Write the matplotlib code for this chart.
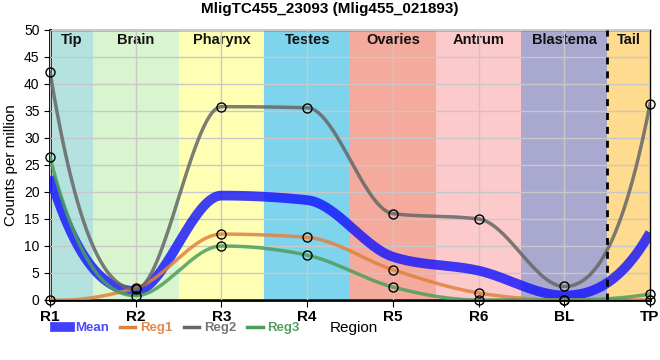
import numpy as np
import matplotlib
matplotlib.use('Agg')
from matplotlib import pyplot as plt
from matplotlib.lines import Line2D

plt.rcParams['font.family'] = ['Liberation Sans', 'DejaVu Sans']

regions = ['R1', 'R2', 'R3', 'R4', 'R5', 'R6', 'BL', 'TP']
reg1 = [0.0, 2.2, 12.2, 11.6, 5.6, 1.3, 0.0, 0.0]
reg2 = [42.2, 2.0, 35.8, 35.6, 16.0, 15.0, 2.5, 36.3]
reg3 = [26.4, 0.8, 10.0, 8.3, 2.4, 0.0, 0.0, 1.1]
mean = list(np.mean([reg1, reg2, reg3], axis=0))

zones = ['Tip', 'Brain', 'Pharynx', 'Testes', 'Ovaries', 'Antrum', 'Blastema', 'Tail']
zone_edges = [0, 0.5, 1.5, 2.5, 3.5, 4.5, 5.5, 6.5, 7]
zone_colors = ['#b3e2df', '#d8f5d0', '#ffffb4', '#7ed4ec', '#f4aa9d', '#fdcacb', '#a9a8cf', '#fedb8e']


# monotone cubic interpolation, steeper end tangents
def monotone(x, y, n=60, endk=2.4):
    x = np.asarray(x, float)
    y = np.asarray(y, float)
    h = np.diff(x)
    s = np.diff(y) / h
    m = np.zeros_like(y)
    for i in range(1, len(y) - 1):
        if s[i - 1] * s[i] > 0:
            p = (s[i - 1] * h[i] + s[i] * h[i - 1]) / (h[i - 1] + h[i])
            m[i] = (np.sign(s[i - 1]) + np.sign(s[i])) * min(abs(s[i - 1]), abs(s[i]), 0.5 * abs(p))
    m[0] = endk * s[0] - (endk - 1) * m[1]
    m[-1] = endk * s[-1] - (endk - 1) * m[-2]
    xs, ys = [], []
    for i in range(len(h)):
        t = np.linspace(0, 1, n)
        h00 = 2 * t**3 - 3 * t**2 + 1
        h10 = t**3 - 2 * t**2 + t
        h01 = -2 * t**3 + 3 * t**2
        h11 = t**3 - t**2
        xs.append(x[i] + t * h[i])
        ys.append(h00 * y[i] + h10 * h[i] * m[i] + h01 * y[i + 1] + h11 * h[i] * m[i + 1])
    return np.concatenate(xs), np.concatenate(ys)


fig = plt.figure(figsize=(6.6, 3.6), dpi=100)
ax = fig.add_axes([0.0758, 0.1667, 0.9091, 0.75])
x = np.arange(len(regions))

for i, z in enumerate(zones):
    ax.axvspan(zone_edges[i], zone_edges[i + 1], color=zone_colors[i], zorder=0, lw=0)
    ax.text((zone_edges[i] + zone_edges[i + 1]) / 2, 48.1, z, ha='center', va='center',
            fontsize=10.5, fontweight='bold', color='#111111', zorder=1)
ax.axvline(6.5, color='black', lw=2, ls=(0, (2.5, 2.5)), zorder=5)

ax.set_axisbelow(False)
ax.grid(color='#c8c8c8', lw=1, zorder=1)

ax.plot(*monotone(x, mean), color='#1010ff', lw=7, alpha=0.8, zorder=3, solid_capstyle='butt')
ax.plot(*monotone(x, reg1), color='#e0823f', lw=2.5, alpha=0.85, zorder=3)
ax.plot(*monotone(x, reg2), color='#666666', lw=2.5, alpha=0.85, zorder=3)
ax.plot(*monotone(x, reg3), color='#4c9e5c', lw=2.5, alpha=0.85, zorder=3)
for r in (reg1, reg2, reg3):
    ax.plot(x, r, 'o', ms=6.5, mfc='none', mec='black', mew=1, zorder=4, clip_on=False)

ax.set_xlim(0, 7)
ax.set_ylim(0, 50)
ax.set_xticks(x)
ax.set_xticklabels(regions, fontweight='bold', fontsize=11)
ax.set_yticks(np.arange(0, 51, 5))
ax.tick_params(axis='y', labelsize=10, length=4)
ax.tick_params(axis='x', length=5, pad=2)
ax.spines['left'].set_linewidth(2)
ax.spines['bottom'].set_linewidth(2)
ax.spines['top'].set_linewidth(1)
ax.spines['right'].set_linewidth(1)
ax.set_ylabel('Counts per million', fontsize=11)
fig.text(0.5, 0.088, 'Region', fontsize=11, ha='left', va='center')
fig.suptitle('MligTC455_23093 (Mlig455_021893)', fontsize=11, fontweight='bold', y=0.995)

handles = [Line2D([], [], color='#1010ff', lw=7, alpha=0.8),
           Line2D([], [], color='#e0823f', lw=2.5),
           Line2D([], [], color='#666666', lw=2.5),
           Line2D([], [], color='#4c9e5c', lw=2.5)]
leg = fig.legend(handles, ['Mean', 'Reg1', 'Reg2', 'Reg3'], loc='center left',
                 bbox_to_anchor=(0.083, 0.088), ncol=4, frameon=False, fontsize=9.5,
                 handlelength=1.15, handletextpad=0.38, columnspacing=0.85, borderpad=0,
                 borderaxespad=0)
for t, c in zip(leg.get_texts(), ['#4a4aff', '#e08a50', '#777777', '#55a060']):
    t.set_color(c)
    t.set_fontweight('bold')

fig.savefig('out.png', dpi=100)
